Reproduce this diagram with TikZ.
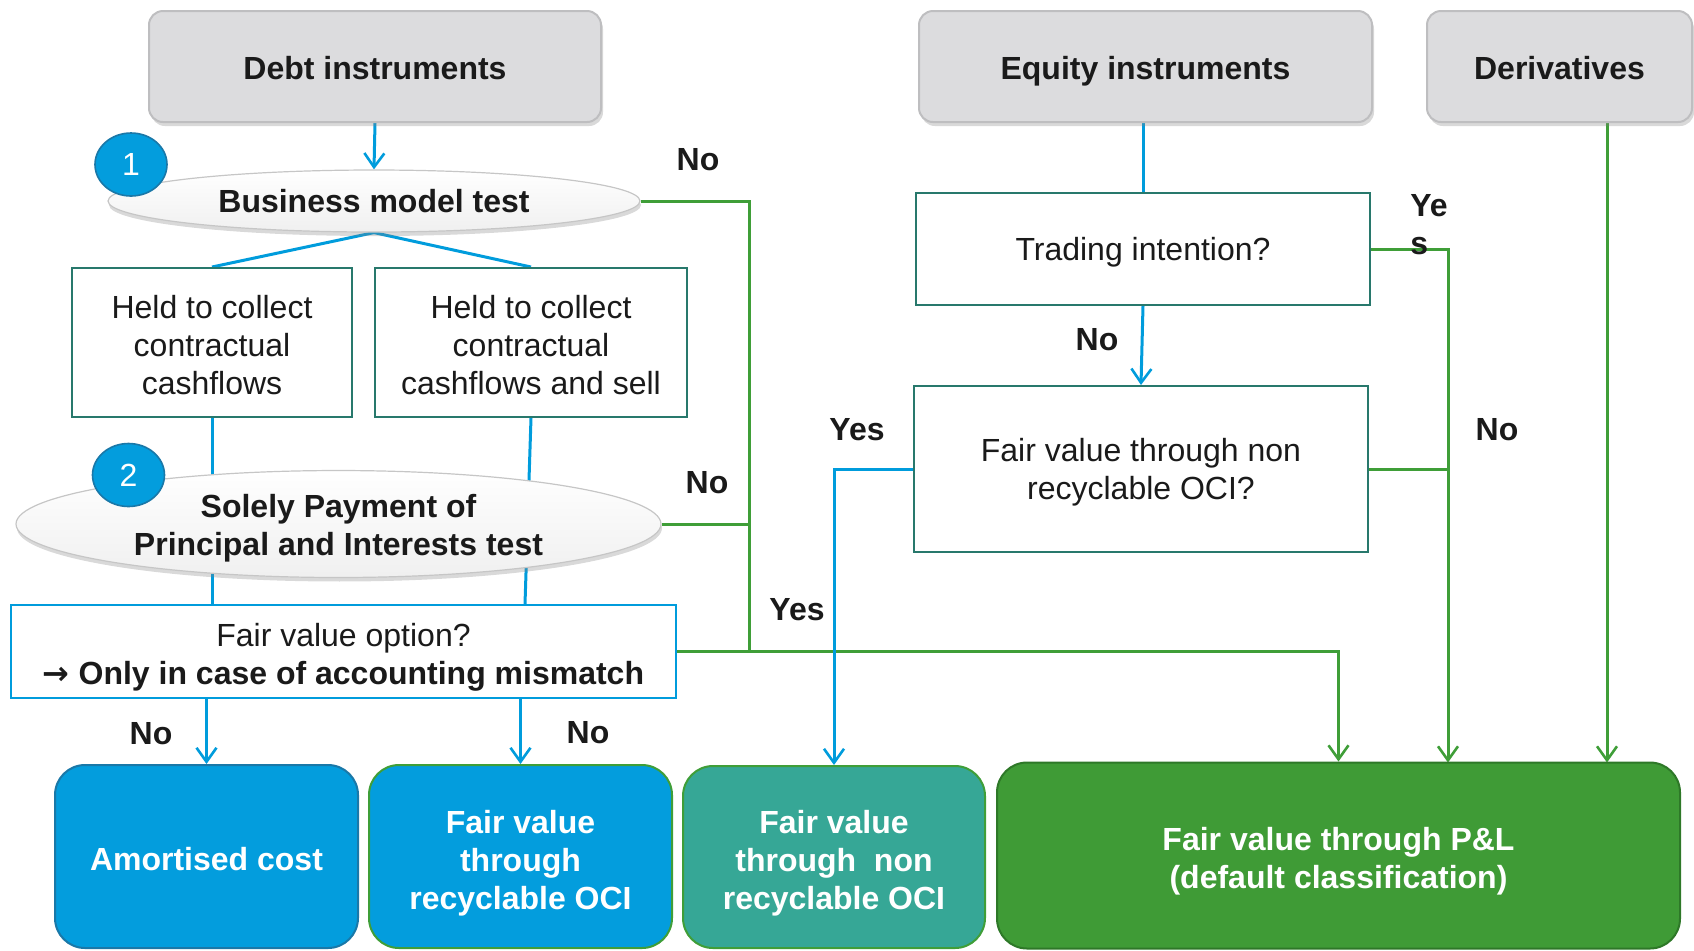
\documentclass[tikz,border=0pt]{standalone}
\usepackage{fontspec}
\setmainfont{Liberation Sans}
\newfontfamily\dejavu{DejaVu Sans}
\usetikzlibrary{shapes.geometric,arrows.meta,shadows,backgrounds}
\definecolor{lblue}{RGB}{0,156,220}
\definecolor{lgreen}{RGB}{63,158,56}
\definecolor{bblue}{RGB}{3,157,221}
\definecolor{bblueb}{RGB}{26,120,168}
\definecolor{boxteal}{RGB}{54,167,150}
\definecolor{plgreen}{RGB}{63,155,54}
\definecolor{plgreenb}{RGB}{46,120,40}
\definecolor{graybox}{RGB}{220,220,222}
\definecolor{grayline}{RGB}{190,190,192}
\definecolor{dteal}{RGB}{40,120,108}
\definecolor{txt}{RGB}{26,26,26}
\newcommand{\mystrut}[1]{\rule{0pt}{#1}}
\begin{document}
\begin{tikzpicture}[x=0.5pt,y=-0.5pt,
  font=\fontsize{16}{19}\selectfont, text=txt,
  hdr/.style={draw=grayline, fill=graybox, rounded corners=7pt, line width=1pt,
    minimum height=55.5pt, font=\fontsize{16}{19}\selectfont\bfseries,
    text height=13pt, text depth=0pt,
    drop shadow={shadow xshift=1pt,shadow yshift=-2pt,opacity=0.3}},
  oval/.style={ellipse, draw=gray!45, line width=0.6pt, top color=white, bottom color=gray!12,
    inner sep=0pt, font=\fontsize{16}{19}\selectfont\bfseries, align=center,
    drop shadow={shadow xshift=0.5pt,shadow yshift=-2pt,opacity=0.3}},
  num/.style={ellipse, draw=bblueb, fill=bblue, line width=0.8pt, minimum width=36pt,
    minimum height=31.5pt, inner sep=0pt, text=white},
  qbox/.style={draw=dteal, line width=1pt, fill=white, align=center},
  res/.style={rounded corners=15pt, line width=1pt, text=white, align=center,
    font=\fontsize{16}{19}\selectfont\bfseries},
  bl/.style={draw=lblue, line width=1.5pt},
  gr/.style={draw=lgreen, line width=1.5pt},
  tip/.style={-{Straight Barb[length=7pt,width=10pt,line width=1.3pt]}},
  lab/.style={font=\fontsize{16}{19}\selectfont\bfseries}
]
\useasboundingbox (0,0) rectangle (1694,950);

% headers
\node[hdr, minimum width=226pt] (debt) at (375,66.5) {Debt instruments};
\node[hdr, minimum width=226.5pt] (equity) at (1145.5,66.5) {Equity instruments};
\node[hdr, minimum width=132.5pt] (deriv) at (1559.5,66.5) {Derivatives};

% debt side
\node[oval, minimum width=266pt, minimum height=31pt] (bmt) at (374,201) {Business model test};
\node[num] (n1) at (131,164.5) {1};
\node[qbox, minimum width=140pt, minimum height=74.5pt] (held1) at (212,342.5)
  {\mystrut{14.4pt}Held to collect\\contractual\\cashflows};
\node[qbox, minimum width=156pt, minimum height=74.5pt] (held2) at (531,342.5)
  {\mystrut{14.4pt}Held to collect\\contractual\\cashflows and sell};
\node[oval, minimum width=322.5pt, minimum height=49pt] (sppi) at (338.5,524)
  {\mystrut{15.5pt}Solely Payment of\\Principal and Interests test};
\node[num] (n2) at (128.5,475) {2};
\node[qbox, draw=lblue, minimum width=332.5pt, minimum height=46.5pt] (fvo) at (343.5,651.5)
  {\mystrut{17pt}Fair value option?\\{\dejavu\bfseries →} \textbf{Only in case of accounting mismatch}};

% equity side
\node[qbox, minimum width=227pt, minimum height=56pt, text height=11.6pt, text depth=0pt] (trade) at (1143,249)
  {Trading intention?};
\node[qbox, minimum width=227pt, minimum height=83pt] (fvq) at (1141,469)
  {\mystrut{14.9pt}Fair value through non\\recyclable OCI?};

% results
\node[res, fill=bblue, draw=bblueb, minimum width=151.5pt, minimum height=91.5pt,
  text height=14.2pt, text depth=0pt] (amort) at (206.5,856.5)
  {Amortised cost};
\node[res, fill=bblue, draw=lgreen, minimum width=151.5pt, minimum height=91.5pt] (fvrec) at (520.5,856.5)
  {\mystrut{18.2pt}Fair value\\through\\recyclable OCI};
\node[res, fill=boxteal, draw=lgreen, minimum width=151pt, minimum height=91pt] (fvnon) at (834,857)
  {\mystrut{17.9pt}Fair value\\through\ \ non\\recyclable OCI};
\node[res, fill=plgreen, draw=plgreenb, minimum width=341.5pt, minimum height=93pt] (fvpl) at (1338.5,855.5)
  {\mystrut{17.1pt}Fair value through P\&L\\(default classification)};

\coordinate (jn) at (749,651.5);
\coordinate (pl2) at (1448,762.5);
\coordinate (pl3) at (1607,762.5);

\begin{scope}[on background layer]
  % blue debt flow
  \draw[bl,tip] (debt.south) -- (bmt.north);
  \draw[bl] (bmt.south) -- (held1.north);
  \draw[bl] (bmt.south) -- (held2.north);
  \draw[bl] (held1.south) -- (held1.south |- fvo.north);
  \draw[bl] (held2.south) -- ([xshift=-3pt]held2.south |- fvo.north);
  \draw[bl,tip] (amort.north |- fvo.south) -- (amort.north);
  \draw[bl,tip] (fvrec.north |- fvo.south) -- (fvrec.north);
  % green debt flow
  \draw[gr] (bmt.east) -| (jn);
  \draw[gr] (sppi.east) -- (sppi.east -| jn);
  \draw[gr,tip] (fvo.east) -| (fvpl.north);
  % equity
  \draw[bl] (trade.north |- equity.south) -- (trade.north);
  \draw[bl,tip] (trade.south) -- (fvq.north);
  \draw[gr,tip] (trade.east) -| (pl2);
  \draw[gr] (fvq.east) -- (fvq.east -| pl2);
  \draw[bl,tip] (fvq.west) -| (fvnon.north);
  % derivatives
  \draw[gr,tip] (pl3 |- deriv.south) -- (pl3);
\end{scope}

% labels
\node[lab] (l1) at (698,160) {No};
\node[lab] (l2) at (707,483) {No};
\node[lab] (l3) at (797,610) {Yes};
\node[lab] (l4) at (151,734) {No};
\node[lab] (l5) at (588,733) {No};
\node[lab] (l6) at (1097,340) {No};
\node[lab] (l7) at (857,430) {Yes};
\node[lab] (l8) at (1497,430) {No};
\node[lab, align=left, anchor=north west, inner sep=0pt] (l9) at (1410,194) {Ye\\s};
\end{tikzpicture}
\end{document}
